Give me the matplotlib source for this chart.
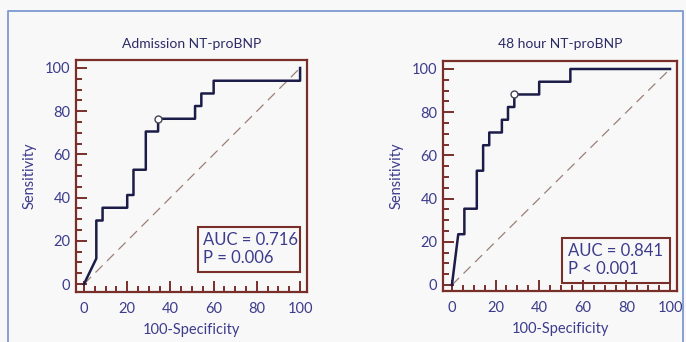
import matplotlib.pyplot as plt
from matplotlib.lines import Line2D
from matplotlib.ticker import MultipleLocator

# ROC curves (100-specificity, sensitivity)
adm_x = [0, 5.7, 5.7, 8.6, 8.6, 20.0, 20.0, 22.9, 22.9, 28.6, 28.6, 34.3, 34.3,
         51.4, 51.4, 54.3, 54.3, 60.0, 60.0, 100, 100]
adm_y = [0, 11.8, 29.4, 29.4, 35.3, 35.3, 41.2, 41.2, 52.9, 52.9, 70.6, 70.6, 76.5,
         76.5, 82.4, 82.4, 88.2, 88.2, 94.1, 94.1, 100]
adm_cut = (34.3, 76.5)

h48_x = [0, 2.9, 5.7, 5.7, 11.4, 11.4, 14.3, 14.3, 17.1, 17.1, 22.9, 22.9, 25.7,
         25.7, 28.6, 28.6, 40.0, 40.0, 54.3, 54.3, 100]
h48_y = [0, 23.5, 23.5, 35.3, 35.3, 52.9, 52.9, 64.7, 64.7, 70.6, 70.6, 76.5, 76.5,
         82.4, 82.4, 88.2, 88.2, 94.1, 94.1, 100, 100]
h48_cut = (28.6, 88.2)

titles = ["Admission NT-proBNP", "48 hour NT-proBNP"]
stats = ["AUC = 0.716\nP = 0.006", "AUC = 0.841\nP < 0.001"]

bg = '#f8f8f8'
frame_col = '#7a2e2a'
text_col = '#3c3c8c'
line_col = '#1c1c48'

plt.rcParams['font.family'] = ['Lato', 'DejaVu Sans']

fig = plt.figure(figsize=(6.86, 3.42), dpi=100, facecolor=bg)

# light blue outer border
fig.add_artist(Line2D([8 / 686, 8 / 686, 683 / 686, 683 / 686],
                      [0, 1 - 11 / 342, 1 - 11 / 342, 0],
                      transform=fig.transFigure, color='#7d9ad0', lw=1.3))

ax1 = fig.add_axes([76 / 686, 50 / 342, 231 / 686, 232 / 342])
ax2 = fig.add_axes([443 / 686, 51 / 342, 234 / 686, 230 / 342])

# axes, curve, cut-off point, limits, stats box (x0, y0, y1)
panels = [(ax1, adm_x, adm_y, adm_cut, (-3.7, 103.2), (-3.7, 103.7), (52.8, 5.6, 26.4)),
          (ax2, h48_x, h48_y, h48_cut, (-4.1, 103.2), (-2.8, 103.7), (50.5, 1.0, 21.8))]

for i, (ax, xs, ys, cut, xl, yl, box) in enumerate(panels):
    ax.set_facecolor(bg)
    ax.plot([0, 100], [0, 100], ls=(0, (8, 5)), color='#9a8078', lw=0.9)
    ax.plot(xs, ys, color=line_col, lw=1.8)
    ax.plot(*cut, 'o', ms=5, mfc='white', mec='#444455', mew=1)
    ax.set_xlim(*xl)
    ax.set_ylim(*yl)
    for s in ax.spines.values():
        s.set_color(frame_col)
        s.set_linewidth(1.6)
    ax.xaxis.set_major_locator(MultipleLocator(20))
    ax.yaxis.set_major_locator(MultipleLocator(20))
    ax.xaxis.set_minor_locator(MultipleLocator(5))
    ax.yaxis.set_minor_locator(MultipleLocator(5))
    ax.tick_params(which='both', direction='in', color=frame_col, width=1.4,
                   top=False, right=False)
    ax.tick_params(which='major', length=8, labelsize=10.5, labelcolor=text_col)
    ax.tick_params(axis='x', which='major', pad=7)
    ax.tick_params(axis='y', which='major', pad=4)
    ax.tick_params(which='minor', length=4)
    ax.set_title(titles[i], fontsize=10, color='#2a2a66', pad=9)
    ax.set_xlabel("100-Specificity", fontsize=10.5, color=text_col, labelpad=5)
    ax.set_ylabel("Sensitivity", fontsize=10.5, color=text_col, labelpad=6)
    x0, y0, y1 = box
    ax.text(x0 + 2.5, (y0 + y1) / 2, stats[i], fontsize=12, color=text_col,
            va='center', ha='left', linespacing=1.15)
    ax.add_patch(plt.Rectangle((x0, y0), 100 - x0, y1 - y0,
                               fill=False, ec=frame_col, lw=1.5))

fig.savefig('out.png', dpi=100, facecolor=bg)
